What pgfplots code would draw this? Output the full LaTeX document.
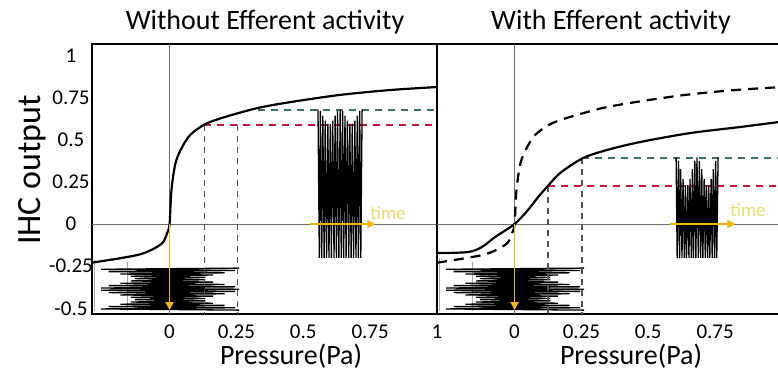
\documentclass[border=0pt]{standalone}
\usepackage{fontspec}
\setmainfont{Carlito}
\usepackage{pgfplots}
\usepackage{pgfplotstable}
\pgfplotsset{compat=1.18}
\usetikzlibrary{arrows.meta}
\definecolor{tealdash}{RGB}{60,110,110}
\definecolor{reddash}{RGB}{205,20,55}
\definecolor{gold}{RGB}{240,180,10}
\definecolor{timetxt}{RGB}{236,220,110}
\definecolor{zerogray}{RGB}{110,110,110}
\definecolor{vdash}{RGB}{80,80,80}

% reference transfer curve (without efferent activity)
\pgfplotstableread{
x y
-0.290 -0.229
-0.183 -0.202
-0.107 -0.178
-0.054 -0.142
-0.024 -0.107
-0.009 -0.053
0.000 0.000
0.007 0.200
0.022 0.360
0.045 0.450
0.077 0.528
0.131 0.590
0.198 0.630
0.325 0.686
0.449 0.722
0.636 0.765
0.823 0.794
1.000 0.812
}\curveA

% transfer curve with efferent activity
\pgfplotstableread{
x y
-0.290 -0.172
-0.174 -0.166
-0.122 -0.136
-0.073 -0.077
0.000 0.000
0.050 0.083
0.088 0.160
0.121 0.219
0.170 0.302
0.256 0.391
0.346 0.439
0.469 0.486
0.656 0.539
0.843 0.575
1.000 0.607
}\curveB

% input pressure waveform (time runs downward)
\pgfplotstableread{
x y
0.260 -0.261
-0.256 -0.268
0.245 -0.275
-0.228 -0.282
0.206 -0.289
-0.184 -0.296
0.163 -0.302
-0.145 -0.309
0.134 -0.316
-0.130 -0.323
0.134 -0.330
-0.145 -0.337
0.163 -0.344
-0.184 -0.351
0.206 -0.358
-0.228 -0.365
0.245 -0.372
-0.256 -0.379
0.260 -0.386
-0.256 -0.392
0.245 -0.399
-0.228 -0.406
0.206 -0.413
-0.184 -0.420
0.163 -0.427
-0.145 -0.434
0.134 -0.441
-0.130 -0.448
0.134 -0.455
-0.145 -0.462
0.163 -0.469
-0.184 -0.475
0.206 -0.482
-0.228 -0.489
0.245 -0.496
-0.256 -0.503
0.260 -0.510
}\inwave

% output waveform, left panel
\pgfplotstableread{
x y
0.555 0.680
0.560 -0.200
0.564 0.669
0.569 -0.200
0.573 0.643
0.578 -0.200
0.582 0.613
0.587 -0.200
0.592 0.593
0.596 -0.200
0.601 0.593
0.605 -0.200
0.610 0.613
0.615 -0.200
0.619 0.643
0.624 -0.200
0.628 0.669
0.633 -0.200
0.638 0.680
0.642 -0.200
0.647 0.669
0.651 -0.200
0.656 0.643
0.660 -0.200
0.665 0.613
0.670 -0.200
0.674 0.593
0.679 -0.200
0.683 0.593
0.688 -0.200
0.693 0.613
0.697 -0.200
0.702 0.643
0.706 -0.200
0.711 0.669
0.715 -0.200
0.720 0.680
}\outL

% output waveform, right panel
\pgfplotstableread{
x y
0.604 0.395
0.608 -0.200
0.613 0.375
0.617 -0.200
0.621 0.325
0.626 -0.200
0.630 0.268
0.635 -0.200
0.639 0.230
0.643 -0.200
0.648 0.230
0.652 -0.200
0.656 0.268
0.661 -0.200
0.665 0.325
0.669 -0.200
0.674 0.375
0.678 -0.200
0.682 0.395
0.687 -0.200
0.691 0.375
0.696 -0.200
0.700 0.325
0.704 -0.200
0.709 0.268
0.713 -0.200
0.717 0.230
0.722 -0.200
0.726 0.230
0.730 -0.200
0.735 0.268
0.739 -0.200
0.743 0.325
0.748 -0.200
0.752 0.375
0.756 -0.200
0.761 0.395
}\outR

\pgfplotsset{
  panel/.style={
    scale only axis, width=345pt, height=270pt,
    anchor=south west,
    xmin=-0.29, xmax=1.0, ymin=-0.533, ymax=1.067,
    axis line style={line width=1.4pt},
    major tick length=0pt,
    tick label style={font=\fontsize{21}{21}\selectfont, inner sep=0pt},
    xticklabel style={anchor=north, yshift=-11pt},
    yticklabel style={anchor=center, xshift=-21pt},
  },
  zeroline/.style={zerogray, line width=0.8pt, no marks},
  wave/.style={black, line width=1.3pt, no marks, line join=miter},
  vdashed/.style={vdash, line width=1.1pt, dash pattern=on 6pt off 5pt, no marks},
  hred/.style={reddash, line width=1.6pt, dash pattern=on 7pt off 6pt, no marks},
  hteal/.style={tealdash, line width=1.6pt, dash pattern=on 7pt off 6pt, no marks},
  framegray/.style={gray!70, line width=0.8pt, no marks},
  goldarrow/.style={gold, line width=1.8pt, no marks, -{Triangle[length=8pt,width=8pt]}},
}

\begin{document}
\begin{tikzpicture}
\useasboundingbox (0,0) rectangle (778pt,370pt);

% ---------- left panel ----------
\begin{axis}[panel, at={(92pt,56pt)},
  xtick={0,0.25,0.5,0.75,1}, xticklabels={0,0.25,0.5,0.75,1},
  ytick={-0.5,-0.25,0,0.25,0.5,0.75,1},
  yticklabels={-0.5,-0.25,0,0.25,0.5,0.75,1}]
  \addplot[zeroline] coordinates {(-0.29,0) (1,0)};
  \addplot[zeroline] coordinates {(0,-0.533) (0,1.067)};
  \addplot[framegray] coordinates {(-0.28,-0.213) (-0.28,-0.515)};
  \addplot[framegray] coordinates {(-0.157,-0.225) (-0.157,-0.515)};
  \addplot[wave] table {\inwave};
  \addplot[vdashed] coordinates {(0.13,0.587) (0.13,-0.533)};
  \addplot[vdashed] coordinates {(0.255,0.587) (0.255,-0.533)};
  \addplot[hred] coordinates {(0.13,0.587) (1,0.587)};
  \addplot[hteal] coordinates {(0.33,0.676) (1,0.676)};
  \addplot[wave] table {\outL};
  \addplot[black, line width=2.2pt, smooth, no marks] table {\curveA};
  \addplot[goldarrow] coordinates {(0,0) (0,-0.51)};
  \addplot[goldarrow, line width=1.6pt] coordinates {(0.525,0) (0.77,0)};
  \node[text=timetxt, font=\fontsize{19}{19}\selectfont] at (axis cs:0.817,0.065) {time};
\end{axis}

% ---------- right panel ----------
\begin{axis}[panel, at={(437pt,56pt)},
  axis x line*=box, axis y line*=left,
  xtick={0,0.25,0.5,0.75}, xticklabels={0,0.25,0.5,0.75},
  ytick=\empty]
  \addplot[zeroline] coordinates {(-0.29,0) (1,0)};
  \addplot[zeroline] coordinates {(0,-0.533) (0,1.067)};
  \addplot[framegray] coordinates {(-0.28,-0.200) (-0.28,-0.515)};
  \addplot[framegray] coordinates {(-0.156,-0.225) (-0.156,-0.515)};
  \addplot[wave] table {\inwave};
  \addplot[vdashed] coordinates {(0.125,0.225) (0.125,-0.533)};
  \addplot[vdashed] coordinates {(0.252,0.390) (0.252,-0.533)};
  \addplot[hred] coordinates {(0.125,0.225) (1,0.225)};
  \addplot[hteal] coordinates {(0.252,0.390) (1,0.390)};
  \addplot[wave] table {\outR};
  \addplot[black, line width=2.2pt, dash pattern=on 10pt off 7pt, smooth, no marks] table {\curveA};
  \addplot[black, line width=2.2pt, smooth, no marks] table {\curveB};
  \addplot[goldarrow] coordinates {(0,0) (0,-0.51)};
  \addplot[goldarrow, line width=1.6pt] coordinates {(0.581,0) (0.826,0)};
  \node[text=timetxt, font=\fontsize{19}{19}\selectfont] at (axis cs:0.873,0.083) {time};
\end{axis}

% ---------- titles and labels ----------
\node[anchor=base, font=\fontsize{28}{28}\selectfont] at (265pt,340pt) {Without Efferent activity};
\node[anchor=base, font=\fontsize{28}{28}\selectfont] at (611pt,340pt) {With Efferent activity};
\node[anchor=base, rotate=90, font=\fontsize{34}{34}\selectfont] at (40pt,200pt) {IHC output};
\node[anchor=base, font=\fontsize{28}{28}\selectfont] at (291pt,6pt) {Pressure(Pa)};
\node[anchor=base, font=\fontsize{28}{28}\selectfont] at (631pt,6pt) {Pressure(Pa)};
\end{tikzpicture}
\end{document}
